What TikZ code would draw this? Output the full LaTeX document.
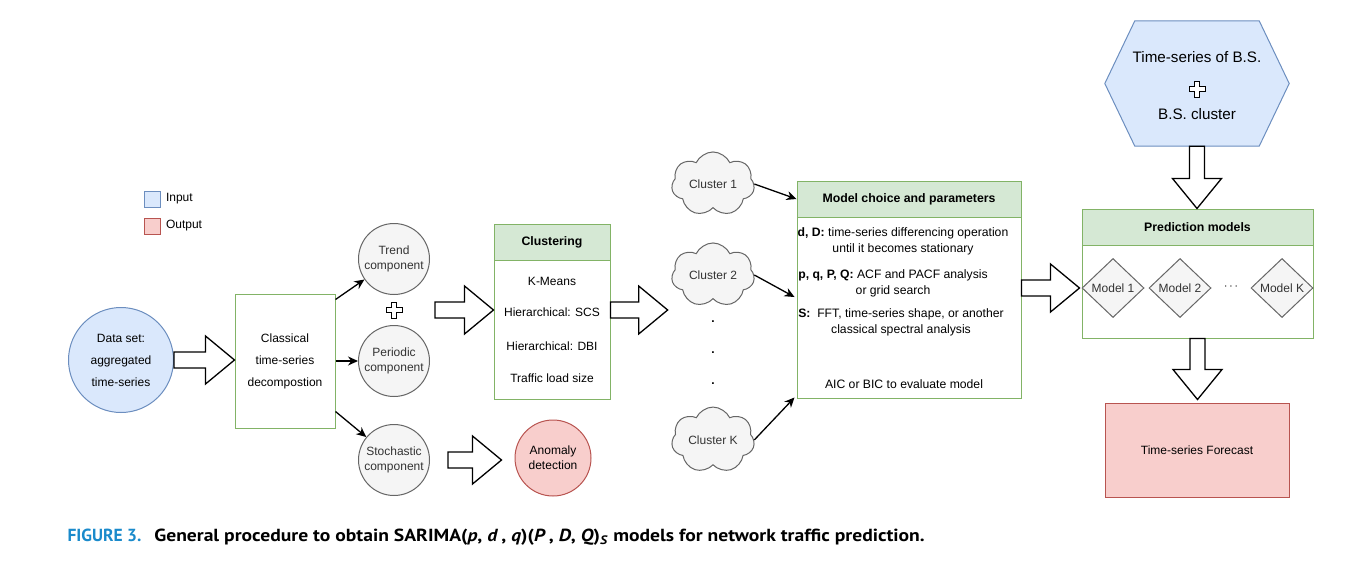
\documentclass[tikz,border=0pt]{standalone}
\usepackage{fontspec}
\setmainfont{Liberation Sans}
\newfontfamily\capfont{PT Sans}
\usetikzlibrary{positioning, shapes.geometric, shapes.symbols, arrows.meta, calc}
\definecolor{infill}{HTML}{DAE8FC}
\definecolor{inline}{HTML}{6C8EBF}
\definecolor{outfill}{HTML}{F8CECC}
\definecolor{outline}{HTML}{B85450}
\definecolor{greenbd}{HTML}{82B366}
\definecolor{greenfill}{HTML}{D5E8D4}
\definecolor{grayfill}{HTML}{F5F5F5}
\definecolor{graybd}{HTML}{666666}
\definecolor{graytext}{HTML}{333333}
\definecolor{capblue}{HTML}{1A8ACB}
\newcommand{\fatright}[2]{\draw[fat] let \p1=#1, \p2=#2 in
  (\x1,\y1+8pt) -- (\x2-29pt,\y1+8pt) -- (\x2-29pt,\y1+24pt) -- (\x2,\y1) -- (\x2-29pt,\y1-24pt) -- (\x2-29pt,\y1-8pt) -- (\x1,\y1-8pt) -- cycle;}
\newcommand{\fatdown}[2]{\draw[fat] let \p1=#1, \p2=#2 in
  (\x1-7.5pt,\y1) -- (\x1-7.5pt,\y2+30pt) -- (\x1-24.5pt,\y2+30pt) -- (\x1,\y2) -- (\x1+24.5pt,\y2+30pt) -- (\x1+7.5pt,\y2+30pt) -- (\x1+7.5pt,\y1) -- cycle;}
\tikzset{plussign/.pic={\draw[line width=1pt, fill=white] (-2.5,-8) -- (2.5,-8) -- (2.5,-2.5) -- (8,-2.5) -- (8,2.5) -- (2.5,2.5) -- (2.5,8) -- (-2.5,8) -- (-2.5,2.5) -- (-8,2.5) -- (-8,-2.5) -- (-2.5,-2.5) -- cycle;}}
\begin{document}
\begin{tikzpicture}[x=1pt, y=-1pt, >={Stealth[length=10pt, width=9pt]},
  every node/.style={font=\fontsize{12}{15}\selectfont},
  compcircle/.style={circle, draw=graybd, fill=grayfill, text=graytext, minimum size=71, inner sep=1pt, align=center, line width=1pt},
  greenbox/.style={rectangle, draw=greenbd, fill=white, line width=1pt},
  greenhead/.style={greenbox, fill=greenfill, font=\fontsize{12.3}{14}\selectfont\bfseries},
  cluster/.style={cloud, cloud puffs=7, cloud puff arc=130, aspect=1.35, draw=graybd, fill=grayfill, text=graytext, minimum width=83, minimum height=63, inner sep=0, line width=1pt},
  model/.style={diamond, draw=graybd, fill=grayfill, text=graytext, minimum width=62, minimum height=59, inner sep=0, line width=1pt},
  fat/.style={draw=black, fill=white, line width=1.3pt, line join=miter},
  thin/.style={->, line width=1.3pt},
  mctext/.style={align=center, font=\fontsize{12.2}{16}\selectfont}]
\useasboundingbox (0,0) rectangle (1349,560);

\node[draw=inline, fill=infill, minimum size=16, inner sep=0, line width=1pt] (inkey) at (152,199) {};
\node[right=2pt of inkey] (inlab) {Input};
\node[draw=outline, fill=outfill, minimum size=16, inner sep=0, line width=1pt] (outkey) at (152,226) {};
\node[right=2pt of outkey] (outlab) {Output};

\node[circle, draw=inline, fill=infill, minimum size=105, align=center, line width=1pt, font=\fontsize{12}{22}\selectfont] (data) at (121,360) {Data set:\\aggregated\\time-series};
\node[greenbox, minimum width=100, minimum height=134, align=center, font=\fontsize{12}{22}\selectfont] (decomp) at (285,361) {Classical\\time-series\\decompostion};
\node[compcircle] (trend) at (394,259) {Trend\\component};
\coordinate (pl) at (394,310);
\pic at (pl) {plussign};
\node[compcircle] (periodic) at (394,361) {Periodic\\component};
\node[compcircle] (stoch) at (394,460) {Stochastic\\component};
\node[circle, draw=outline, fill=outfill, minimum size=76, align=center, line width=1pt] (anomaly) at (553,458) {Anomaly\\detection};

\node[greenhead, minimum width=116, minimum height=36] (clushead) at (552,242) {Clustering};
\node[greenbox, minimum width=116, minimum height=139, align=center, font=\fontsize{12}{14}\selectfont] (clusbody) at (552,329.5) {K-Means\\[17pt]Hierarchical: SCS\\[20pt]Hierarchical: DBI\\[18pt]Traffic load size};

\node[cluster] (c1) at (713,184) {Cluster 1};
\node[cluster] (c2) at (713,275) {Cluster 2};
\node[align=center, font=\fontsize{12}{31}\selectfont\bfseries] (vdots) at (713,353) {.\\.\\.};
\node[cluster] (ck) at (713,440) {Cluster K};

\node[greenhead, minimum width=224, minimum height=36] (mchead) at (909,199) {Model choice and parameters};
\node[greenbox, minimum width=224, minimum height=181] (mcbody) at (909,307.5) {};
\node[mctext] (mcd) at (903,241) {\textbf{d, D:} time-series differencing operation\\until it becomes stationary};
\node[mctext] (mcp) at (893,283) {\textbf{p, q, P, Q:} ACF and PACF analysis\\or grid search};
\node[mctext] (mcs) at (901,322) {\textbf{S:}\ \ FFT, time-series shape, or another\\classical spectral analysis};
\node[mctext] (mcaic) at (904,384) {AIC or BIC to evaluate model};

\node[minimum width=184, minimum height=125] (hex) at (1197,83.5) {};
\draw[draw=inline, fill=infill, line width=1pt] (hex.west) -- ($(hex.north west)+(30,0)$) -- ($(hex.north east)+(-30,0)$) -- (hex.east) -- ($(hex.south east)+(-30,0)$) -- ($(hex.south west)+(30,0)$) -- cycle;
\node[align=center, font=\fontsize{15.2}{57}\selectfont] (hextext) at (1197,86) {Time-series of B.S.\\B.S. cluster};
\pic at (1197,89) {plussign};

\node[greenhead, minimum width=231, minimum height=36] (predhead) at (1197.5,227) {Prediction models};
\node[greenbox, minimum width=231, minimum height=93] (predbody) at (1197.5,291.5) {};
\node[model] (m1) at (1113,288) {Model 1};
\node[model] (m2) at (1180,288) {Model 2};
\node (hdots) at (1231,287) {$\cdots$};
\node[model] (mk) at (1282,288) {Model K};

\node[draw=outline, fill=outfill, minimum width=184, minimum height=94, line width=1pt] (fc) at (1197,450) {Time-series Forecast};

\fatright{(data.east)}{(decomp.west)}
\fatright{($(pl)+(41,0)$)}{(clusbody.west)}
\fatright{($(stoch.east)+(18,0)$)}{($(anomaly.west)+(-13,0)$)}
\fatright{(clusbody.east |- pl)}{($(c2.west)+(-4,0)$)}
\fatright{(mcbody.east |- m1)}{($(predbody.west)+(-2,0)$)}
\fatdown{(hex.south)}{(predhead.north)}
\fatdown{(predbody.south)}{($(fc.north)+(0,-3)$)}

\draw[thin] ($(decomp.north east)+(0,6)$) -- (trend);
\draw[thin] (decomp.east |- periodic) -- (periodic);
\draw[thin] ($(decomp.south east)+(0,-17)$) -- (stoch);
\draw[thin] (c1.east) -- (mchead.west);
\draw[thin] (c2.east) -- ($(mcbody.west)+(-2,-10.5)$);
\draw[thin] (ck.east) -- ($(mcbody.south west)+(-2,-1)$);

\node[anchor=west, font=\capfont\bfseries\fontsize{17.5}{20}\selectfont] (caption) at (64,537) {\textcolor{capblue}{FIGURE 3.}\hspace{13pt}\scalebox{1.12}[1]{General procedure to obtain SARIMA(\textit{p}, \textit{d}\,, \textit{q})(\textit{P}\,, \textit{D}, \textit{Q})\textsubscript{\textit{S}} models for network traffic prediction.}};
\end{tikzpicture}
\end{document}
